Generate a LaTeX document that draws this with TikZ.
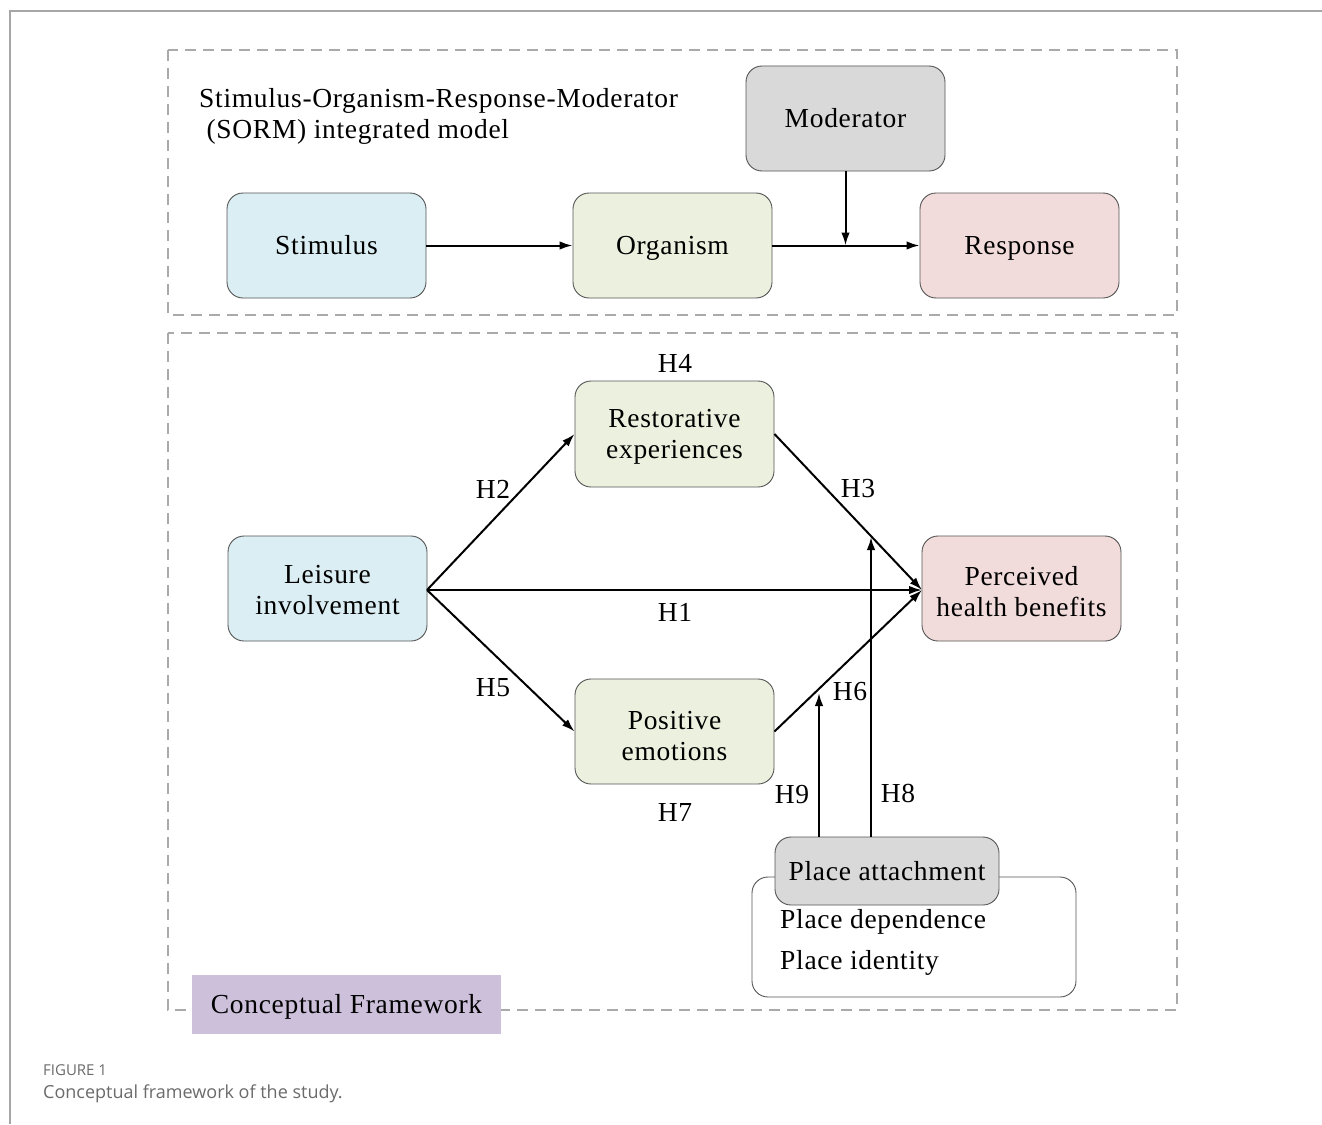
\documentclass[tikz,border=0pt]{standalone}
\usepackage{fontspec}
\setmainfont{Liberation Serif}[LetterSpace=2.5]
\newfontfamily\capfont{Open Sans}
\usetikzlibrary{arrows.meta}
\definecolor{cblue}{HTML}{DBEEF3}
\definecolor{cgreen}{HTML}{EBF1DE}
\definecolor{cpink}{HTML}{F2DCDB}
\definecolor{cgray}{HTML}{D9D9D9}
\definecolor{cpurple}{HTML}{CCC0DA}
\definecolor{dashgray}{HTML}{AAAAAA}
\definecolor{framegray}{HTML}{A6A6A6}
\definecolor{boxline}{HTML}{555555}
\definecolor{captext}{HTML}{6B6B6B}
\newcommand{\twolines}[3][0]{\rule{0pt}{\dimexpr 24pt+#1pt\relax}#2\\#3\rule[-6pt]{0pt}{0pt}}
\tikzset{
  txt/.style={font=\fontsize{27.5}{31}\selectfont},
  box/.style={draw=boxline, line width=0.9pt, rounded corners=16pt, minimum width=199pt, minimum height=105pt, align=center, inner sep=0pt, txt},
  onel/.style={text height=24pt, text depth=6pt},
  hyp/.style={txt, inner sep=0pt},
  arr/.style={-{Latex[length=13pt,width=8.5pt]}, line width=2pt, black},
  dashframe/.style={draw=dashgray, line width=2pt, dash pattern=on 11pt off 7pt},
}
\begin{document}
\begin{tikzpicture}[x=1pt,y=-1pt]
\useasboundingbox (0,0) rectangle (1322,1124);
\fill[white] (0,0) rectangle (1322,1124);
% outer figure frame
\draw[framegray, line width=1.5pt] (1322,11) -- (10,11) -- (10,1124);
% dashed frames
\draw[dashframe] (168,50) rectangle (1177,315);
\draw[dashframe] (168,333) rectangle (1177,1010);
% title
\node[anchor=west, align=left, inner sep=0pt, txt] (title) at (199,116)
  {Stimulus-Organism-Response-Moderator\\\hspace{0.27em}(SORM) integrated model};
% top row
\node[box, onel, fill=cgray] (mod) at (845.5,118.5) {Moderator};
\node[box, onel, fill=cblue] (stim) at (326.5,245.5) {Stimulus};
\node[box, onel, fill=cgreen] (org) at (672.5,245.5) {Organism};
\node[box, onel, fill=cpink] (resp) at (1019.5,245.5) {Response};
\draw[arr] (stim.east) -- (org.west);
\draw[arr] (org.east) -- (resp.west);
\draw[arr] (mod.south) -- (mod.south |- org.east);
% bottom model
\node[box, fill=cgreen, minimum height=106pt] (rest) at (674.5,434) {\twolines{Restorative}{experiences}};
\node[box, fill=cblue] (leis) at (327.5,588.5) {\twolines[2]{Leisure}{involvement}};
\node[box, fill=cpink] (perc) at (1021.5,588.5) {\twolines[6]{Perceived}{health benefits}};
\node[box, fill=cgreen] (posi) at (674.5,731.5) {\twolines[8]{Positive}{emotions}};
\coordinate (ls) at (427,590);
\coordinate (pt) at (922,590);
\draw[arr] (ls) -- (rest.west);
\draw[arr] (ls) -- (pt);
\draw[arr] (ls) -- (posi.west);
\draw[arr] (rest.east) -- (pt);
\draw[arr] (posi.east) -- (pt);
% place attachment
\node[draw=boxline, line width=0.9pt, rounded corners=16pt, fill=white, minimum width=324pt, minimum height=120pt] (pbox) at (914,937) {};
\node[box, onel, fill=cgray, minimum width=224pt, minimum height=68pt] (pa) at (887,871) {Place attachment};
\node[hyp, anchor=west] (pd) at (780,922) {Place dependence};
\node[hyp, anchor=west] (pi) at (780,963) {Place identity};
\coordinate (m9) at (819,693);
\coordinate (m8) at (871,537);
\draw[arr] (m9 |- pa.north) -- (m9);
\draw[arr] (m8 |- pa.north) -- (m8);
% hypothesis labels
\node[hyp] (h4) at (675,363) {H4};
\node[hyp] (h2) at (493,489) {H2};
\node[hyp] (h3) at (858,489) {H3};
\node[hyp] (h1) at (675,612) {H1};
\node[hyp] (h5) at (493,688) {H5};
\node[hyp] (h6) at (850,692) {H6};
\node[hyp] (h7) at (675,812) {H7};
\node[hyp] (h9) at (792,795) {H9};
\node[hyp] (h8) at (898,793) {H8};
% conceptual framework label
\node[fill=cpurple, minimum width=309pt, minimum height=59pt, inner sep=0pt, txt, onel] (cf) at (346.5,1004.5) {Conceptual Framework};
% caption
\node[anchor=west, inner sep=0pt, text=captext, font=\capfont\fontsize{15}{17}\selectfont] (fig) at (43,1070) {FIGURE 1};
\node[anchor=west, inner sep=0pt, text=captext, font=\capfont\fontsize{18}{22}\selectfont] (cap) at (43,1094) {Conceptual framework of the study.};
\end{tikzpicture}
\end{document}
